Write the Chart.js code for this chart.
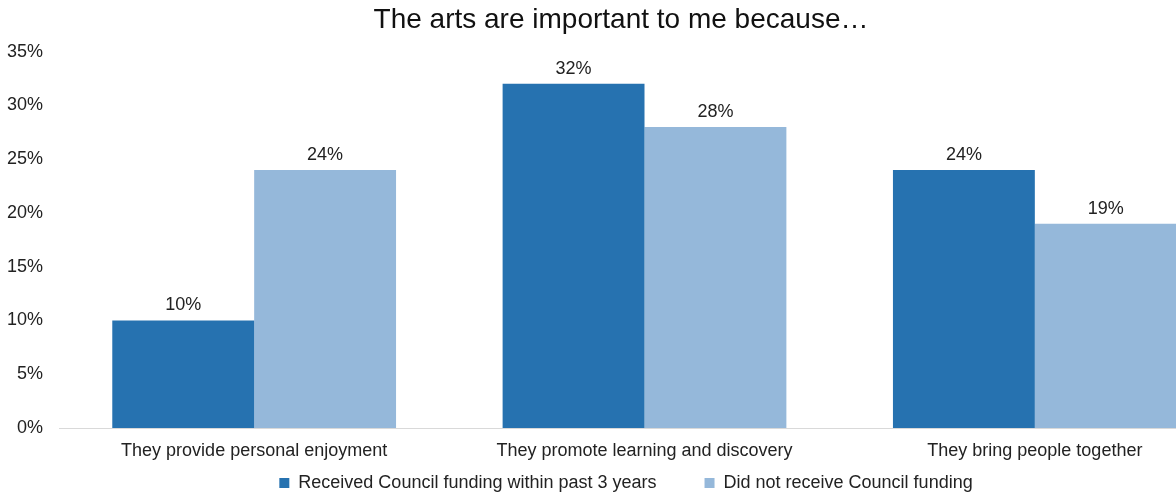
<!DOCTYPE html>
<html>
<head>
<meta charset="utf-8">
<script src="https://cdn.jsdelivr.net/npm/chart.js@4.4.0/dist/chart.umd.min.js"></script>
<style>
  html, body { margin: 0; padding: 0; background: #fff; overflow: hidden; }
  #wrap { width: 1244px; height: 538px; }
</style>
</head>
<body>
<div id="wrap"><canvas id="c" width="1244" height="538"></canvas></div>
<script>
const categories = ["They provide personal enjoyment", "They promote learning and discovery", "They bring people together"];
const seriesNames = ["Received Council funding within past 3 years", "Did not receive Council funding"];
const receivedFunding = [10, 32, 24];
const noFunding = [24, 28, 19];
const yTicks = [0, 5, 10, 15, 20, 25, 30, 35];
const titleText = "The arts are important to me because\u2026";

const FONT = "'Liberation Sans', Arial, sans-serif";

const valueLabels = {
  id: 'valueLabels',
  afterDatasetsDraw(chart) {
    const ctx = chart.ctx;
    ctx.save();
    ctx.font = "18px " + FONT;
    ctx.fillStyle = "#222";
    ctx.textAlign = "center";
    ctx.textBaseline = "bottom";
    chart.data.datasets.forEach((ds, i) => {
      chart.getDatasetMeta(i).data.forEach((bar, j) => {
        ctx.fillText(ds.data[j] + "%", bar.x, bar.y - 6);
      });
    });
    ctx.restore();
  }
};

// nudge title/legend boxes to match the reference's centring
const boxNudge = {
  id: 'boxNudge',
  afterLayout(chart) {
    if (chart.titleBlock) { chart.titleBlock.left = 12; }
    if (chart.legend) {
      chart.legend.left = 22;
      chart.legend.top -= 36;
    }
  }
};

new Chart(document.getElementById('c'), {
  type: 'bar',
  data: {
    labels: categories,
    datasets: [
      { label: seriesNames[0], data: receivedFunding, backgroundColor: '#2672B0', borderWidth: 0 },
      { label: seriesNames[1], data: noFunding, backgroundColor: '#95B8DA', borderWidth: 0 }
    ]
  },
  options: {
    responsive: false,
    animation: false,
    devicePixelRatio: 1,
    layout: { padding: { left: 0, right: 14, top: 0, bottom: 0 } },
    datasets: { bar: { categoryPercentage: 0.727, barPercentage: 1.0 } },
    plugins: {
      title: {
        display: true,
        text: titleText,
        color: '#111',
        font: { family: FONT, size: 28, weight: 'normal' },
        padding: { top: 3, bottom: 15 }
      },
      legend: {
        display: true,
        position: 'bottom',
        labels: {
          color: '#222',
          font: { family: FONT, size: 18 },
          boxWidth: 10,
          boxHeight: 10,
          padding: 48
        }
      },
      tooltip: { enabled: false }
    },
    scales: {
      x: {
        afterFit(axis) { axis.height = 34; },
        grid: { display: false, drawTicks: false },
        border: { display: true, color: '#D9D9D9', width: 1 },
        ticks: { color: '#222', font: { family: FONT, size: 18 }, padding: 12, maxRotation: 0 }
      },
      y: {
        min: 0,
        max: 35,
        afterBuildTicks(axis) { axis.ticks = yTicks.map(v => ({ value: v })); },
        afterFit(axis) { axis.width = 59; },
        grid: { display: false, drawTicks: false },
        border: { display: false },
        ticks: {
          color: '#222',
          font: { family: FONT, size: 18 },
          padding: 16,
          callback: v => v + '%'
        }
      }
    }
  },
  plugins: [valueLabels, boxNudge]
});
</script>
</body>
</html>
